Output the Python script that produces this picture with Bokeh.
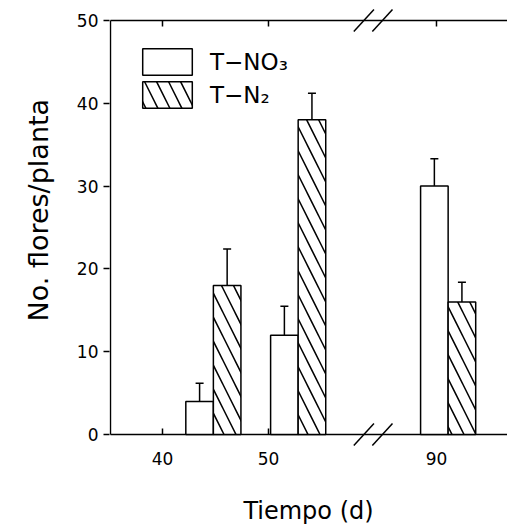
from bokeh.plotting import figure
from bokeh.models import (ColumnDataSource, Range1d, FixedTicker, Title,
                          Whisker, TeeHead, Legend, LegendItem)
from bokeh.embed import file_html
from bokeh.resources import INLINE

# ---- data ----
tick_days = [40, 50, 90]
tick_labels = ["40", "50", "90"]
y_ticks = [0, 10, 20, 30, 40, 50]
group_days = [44.8, 52.8, 91.1]          # centre of each pair of bars (days)
no3_mean = [4, 12, 30]                   # T-NO3
no3_err = [2.2, 3.5, 3.3]
n2_mean = [18, 38, 16]                   # T-N2
n2_err = [4.4, 3.2, 2.4]

# ---- broken x axis: days after BREAK_AT are shifted left ----
BREAK_AT = 60
BREAK_SHIFT = 24.15


def pos(d):
    return d - BREAK_SHIFT if d > BREAK_AT else d


Y0, Y1 = 0, 50            # drawn axis box
X0, X1 = 35.09, 72.55     # left axis position / right end of view
BAR_W = 2.6
FONT = "DejaVu Sans"
LW = 1.5
INK = "black"

p = figure(width=507, height=532,
           x_range=Range1d(35.0, X1), y_range=Range1d(-1.45, 51.45),
           output_backend="svg", toolbar_location=None,
           min_border_left=109, min_border_right=0,
           min_border_top=8, min_border_bottom=86,
           outline_line_color=None,
           background_fill_color="white", border_fill_color="white")
p.grid.visible = False

x_tick_pos = [pos(d) for d in tick_days]

xa = p.xaxis[0]
xa.ticker = FixedTicker(ticks=x_tick_pos)
xa.major_label_overrides = {t: lab for t, lab in zip(x_tick_pos, tick_labels)}
xa.major_tick_in = 0
xa.major_tick_out = 0
xa.major_tick_line_color = None
xa.minor_tick_line_color = None
xa.axis_line_color = None
xa.major_label_text_font = FONT
xa.major_label_text_font_size = "17px"
xa.major_label_text_color = INK
xa.major_label_standoff = 5
xa.axis_label = "Tiempo (d)"
xa.axis_label_text_font = FONT
xa.axis_label_text_font_size = "24px"
xa.axis_label_text_font_style = "normal"
xa.axis_label_text_color = INK
xa.axis_label_standoff = 29

ya = p.yaxis[0]
ya.ticker = FixedTicker(ticks=y_ticks)
ya.major_tick_in = 0
ya.major_tick_out = 6
ya.major_tick_line_color = INK
ya.minor_tick_line_color = None
ya.axis_line_color = None
ya.major_tick_line_width = LW
ya.major_label_text_font = FONT
ya.major_label_text_font_size = "17px"
ya.major_label_text_color = INK
ya.major_label_standoff = 5

# y-axis title (sits a little above the frame centre, as in the reference)
p.add_layout(Title(text="No. flores/planta", align="left", offset=125,
                   standoff=40, text_font=FONT, text_font_size="27px",
                   text_font_style="normal", text_color=INK), "left")

# axis box lines (left, bottom, top)
p.segment(x0=[X0, X0, X0], y0=[Y0, Y0, Y1], x1=[X0, X1, X1], y1=[Y1, Y0, Y1],
          line_color=INK, line_width=LW)
# inward ticks on bottom and top axes
tick_len = 0.72
p.segment(x0=x_tick_pos * 2, x1=x_tick_pos * 2,
          y0=[Y0] * 3 + [Y1] * 3,
          y1=[Y0 + tick_len] * 3 + [Y1 - tick_len] * 3,
          line_color=INK, line_width=LW)

src_no3 = ColumnDataSource(dict(
    x=[pos(d) - BAR_W / 2 for d in group_days],
    top=no3_mean,
    upper=[m + e for m, e in zip(no3_mean, no3_err)]))
src_n2 = ColumnDataSource(dict(
    x=[pos(d) + BAR_W / 2 for d in group_days],
    top=n2_mean,
    upper=[m + e for m, e in zip(n2_mean, n2_err)]))

for src in (src_no3, src_n2):
    p.add_layout(Whisker(base="x", lower="top", upper="upper", source=src,
                         dimension="height", line_width=LW, line_color=INK,
                         lower_head=None,
                         upper_head=TeeHead(size=8, line_width=LW, line_color=INK)))

r_no3 = p.vbar(x="x", top="top", width=BAR_W, source=src_no3,
               fill_color="white", line_color=INK, line_width=LW)
r_n2 = p.vbar(x="x", top="top", width=BAR_W, source=src_n2,
              fill_color="white", line_color=INK, line_width=LW,
              hatch_pattern="\\", hatch_color=INK, hatch_weight=LW,
              hatch_scale=24)

legend = Legend(items=[LegendItem(label="T\u2212NO\u2083", renderers=[r_no3]),
                       LegendItem(label="T\u2212N\u2082", renderers=[r_n2])],
                location=(27, 335), orientation="vertical",
                glyph_width=62, glyph_height=33, label_height=33,
                label_standoff=12, spacing=-2, padding=0, margin=0,
                label_text_font=FONT, label_text_font_size="23px",
                label_text_color=INK,
                border_line_color=None, background_fill_alpha=0)
p.add_layout(legend, "center")

# axis-break marks "//" crossing the top and bottom axes
bx = pos(BREAK_AT) - 0.15
sx0, sx1, sy0, sy1 = [], [], [], []
for cx in (bx - 0.85, bx + 0.9):
    for cy in (Y1, Y0):
        sx0.append(cx - 0.95)
        sx1.append(cx + 0.95)
        sy0.append(cy - 1.33)
        sy1.append(cy + 1.33)
p.segment(x0=sx0, y0=sy0, x1=sx1, y1=sy1, line_color=INK, line_width=LW)

open("out.html", "w").write(file_html(p, INLINE))
